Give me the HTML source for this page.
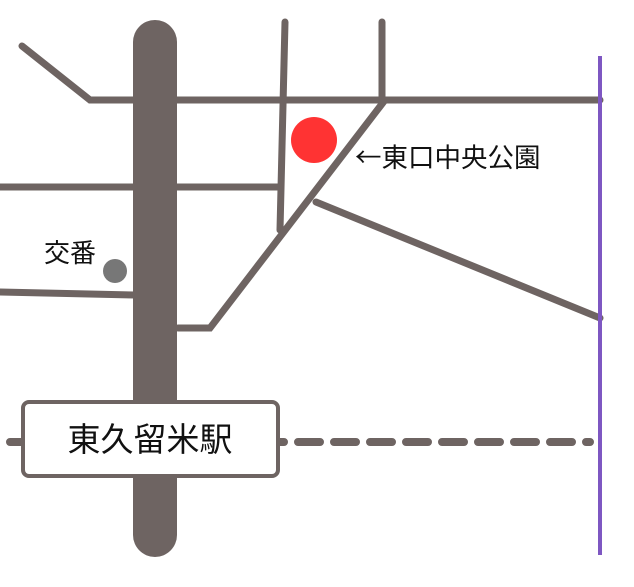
<!DOCTYPE html>
<html><head><meta charset="utf-8"><style>
html,body{margin:0;padding:0;background:#fff;}
svg{display:block;}
text{font-family:"Liberation Sans","Noto Sans CJK JP",sans-serif;fill:#111;}
</style></head><body>
<svg width="634" height="587" viewBox="0 0 634 587" xmlns="http://www.w3.org/2000/svg">
<g stroke="#6e6462" stroke-width="7" fill="none" stroke-linecap="round">
<polyline points="22,46 90,100 600,100"/>
<line x1="285" y1="22" x2="280" y2="230"/>
<line x1="382" y1="22" x2="382" y2="100"/>
<polyline points="385,100 210,328 178,328"/>
<line x1="0" y1="187" x2="280" y2="187"/>
<line x1="316" y1="202" x2="600" y2="318"/>
<line x1="0" y1="292" x2="135" y2="295"/>
<line x1="10" y1="442" x2="590" y2="442" stroke-dasharray="22,14" stroke-linecap="round" stroke-width="8"/>
</g>
<line x1="155" y1="42" x2="155" y2="535" stroke="#6e6462" stroke-width="44" stroke-linecap="round"/>
<line x1="600" y1="56" x2="600" y2="555" stroke="#7e57c2" stroke-width="4"/>
<rect x="23" y="402" width="255" height="74" rx="6" fill="#fff" stroke="#6e6462" stroke-width="4"/>
<text x="150" y="451" font-size="33" text-anchor="middle">東久留米駅</text>
<circle cx="314" cy="140" r="23" fill="#ff3333"/>
<circle cx="115" cy="271" r="12" fill="#777"/>
<text x="44" y="262" font-size="26">交番</text>
<text x="355" y="167" font-size="26.5" style="font-family:'Noto Sans CJK JP',sans-serif">←東口中央公園</text>
</svg>
</body></html>
